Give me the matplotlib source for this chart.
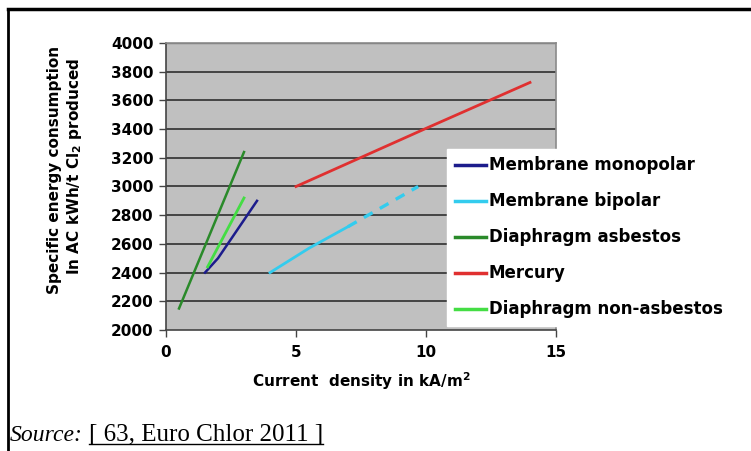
import matplotlib
matplotlib.use("Agg")
import matplotlib.pyplot as plt
from matplotlib.lines import Line2D

# ---- data ----
mono_x = [1.5, 2.0, 3.5]
mono_y = [2400, 2500, 2900]
bip_solid_x = [4.0, 5.5, 7.0]
bip_solid_y = [2400, 2570, 2720]
bip_dash_x = [7.0, 9.7]
bip_dash_y = [2720, 3000]
asb_x = [0.5, 3.0]
asb_y = [2150, 3240]
merc_x = [5.0, 10.0, 14.0]
merc_y = [3000, 3405, 3725]
nonasb_x = [1.6, 3.0]
nonasb_y = [2440, 2920]

labels = ["Membrane monopolar", "Membrane bipolar", "Diaphragm asbestos",
          "Mercury", "Diaphragm non-asbestos"]
colors = ["#1c1c8c", "#33ccee", "#2a8a2a", "#e03030", "#44dd44"]
xticks = [0, 5, 10, 15]
yticks = list(range(2000, 4001, 200))

W, H = 751, 451
fig = plt.figure(figsize=(W / 100, H / 100), dpi=100)
fig.patch.set_facecolor("white")

FONT = "DejaVu Sans"

ax = fig.add_axes([166 / W, 1 - 330 / H, (556 - 166) / W, (330 - 43) / H])
ax.set_facecolor("#c0c0c0")
ax.set_xlim(0, 15)
ax.set_ylim(2000, 4000)
ax.set_xticks(xticks)
ax.set_yticks(yticks)
ax.set_xticklabels([str(t) for t in xticks], fontsize=11, fontweight="bold", family=FONT)
ax.set_yticklabels([str(t) for t in yticks], fontsize=11, fontweight="bold", family=FONT)
for t in yticks[1:-1]:
    ax.axhline(t, color="#3a3a3a", lw=1.3, zorder=1)
ax.axhline(4000, color="#777777", lw=1.0, zorder=1)
for s in ["top", "right"]:
    ax.spines[s].set_color("#8a8a8a")
    ax.spines[s].set_linewidth(1.2)
for s in ["left", "bottom"]:
    ax.spines[s].set_color("#444444")
    ax.spines[s].set_linewidth(1.2)
ax.tick_params(axis="both", direction="out", length=5, width=1, color="#444444", pad=4)
ax.tick_params(axis="x", pad=6)

lw = 1.8
ax.plot(mono_x, mono_y, color=colors[0], lw=lw, zorder=3)
ax.plot(bip_solid_x, bip_solid_y, color=colors[1], lw=2.0, zorder=3)
ax.plot(bip_dash_x, bip_dash_y, color=colors[1], lw=2.4, ls=(0, (3, 2.5)), zorder=3)
ax.plot(asb_x, asb_y, color=colors[2], lw=lw, zorder=3)
ax.plot(merc_x, merc_y, color=colors[3], lw=2.0, zorder=3)
ax.plot(nonasb_x, nonasb_y, color=colors[4], lw=2.0, zorder=3)

ax.set_xlabel("Current  density in kA/m$^{\\mathbf{2}}$", fontsize=11, fontweight="bold",
              family=FONT, labelpad=7)

# y label (two lines)
fig.text(55 / W, 1 - 170 / H, "Specific energy consumption", rotation=90,
         ha="center", va="center", fontsize=11, fontweight="bold", family=FONT)
fig.text(74 / W, 1 - 166 / H, "In AC kWh/t Cl$_{\\mathbf{2}}$ produced", rotation=90,
         ha="center", va="center", fontsize=11, fontweight="bold", family=FONT)

# legend
handles = [Line2D([0], [0], color=c, lw=2.5) for c in colors]
leg = fig.legend(handles, labels, loc="upper left",
                 bbox_to_anchor=(447 / W, 1 - 149 / H),
                 prop={"family": FONT, "weight": "bold", "size": 12},
                 frameon=True, fancybox=False, edgecolor="white", facecolor="white",
                 framealpha=1.0, handlelength=1.9, handletextpad=0.15,
                 labelspacing=1.08, borderpad=0.45, borderaxespad=0)
leg.set_zorder(10)

# outer frame
fig.add_artist(Line2D([8 / W, 1.0], [1 - 9 / H, 1 - 9 / H], color="black", lw=2.5,
                      transform=fig.transFigure))
fig.add_artist(Line2D([8 / W, 8 / W], [1 - 9 / H, 0], color="black", lw=2.0,
                      transform=fig.transFigure))

# source
t1 = fig.text(10 / W, 1 - 441 / H, "Source:", fontsize=17, style="italic",
              family="Liberation Serif", va="baseline")
fig.canvas.draw()
r = fig.canvas.get_renderer()
bb = t1.get_window_extent(r)
t2 = fig.text(bb.x1 / W + 6 / W, 1 - 441 / H, "[ 63, Euro Chlor 2011 ]", fontsize=18,
              family="Liberation Serif", va="baseline")
fig.canvas.draw()
bb2 = t2.get_window_extent(r)
fig.add_artist(Line2D([bb2.x0 / W, bb2.x1 / W], [1 - 444 / H, 1 - 444 / H], color="black",
                      lw=1.0, transform=fig.transFigure))

fig.savefig("out.png", dpi=100)
